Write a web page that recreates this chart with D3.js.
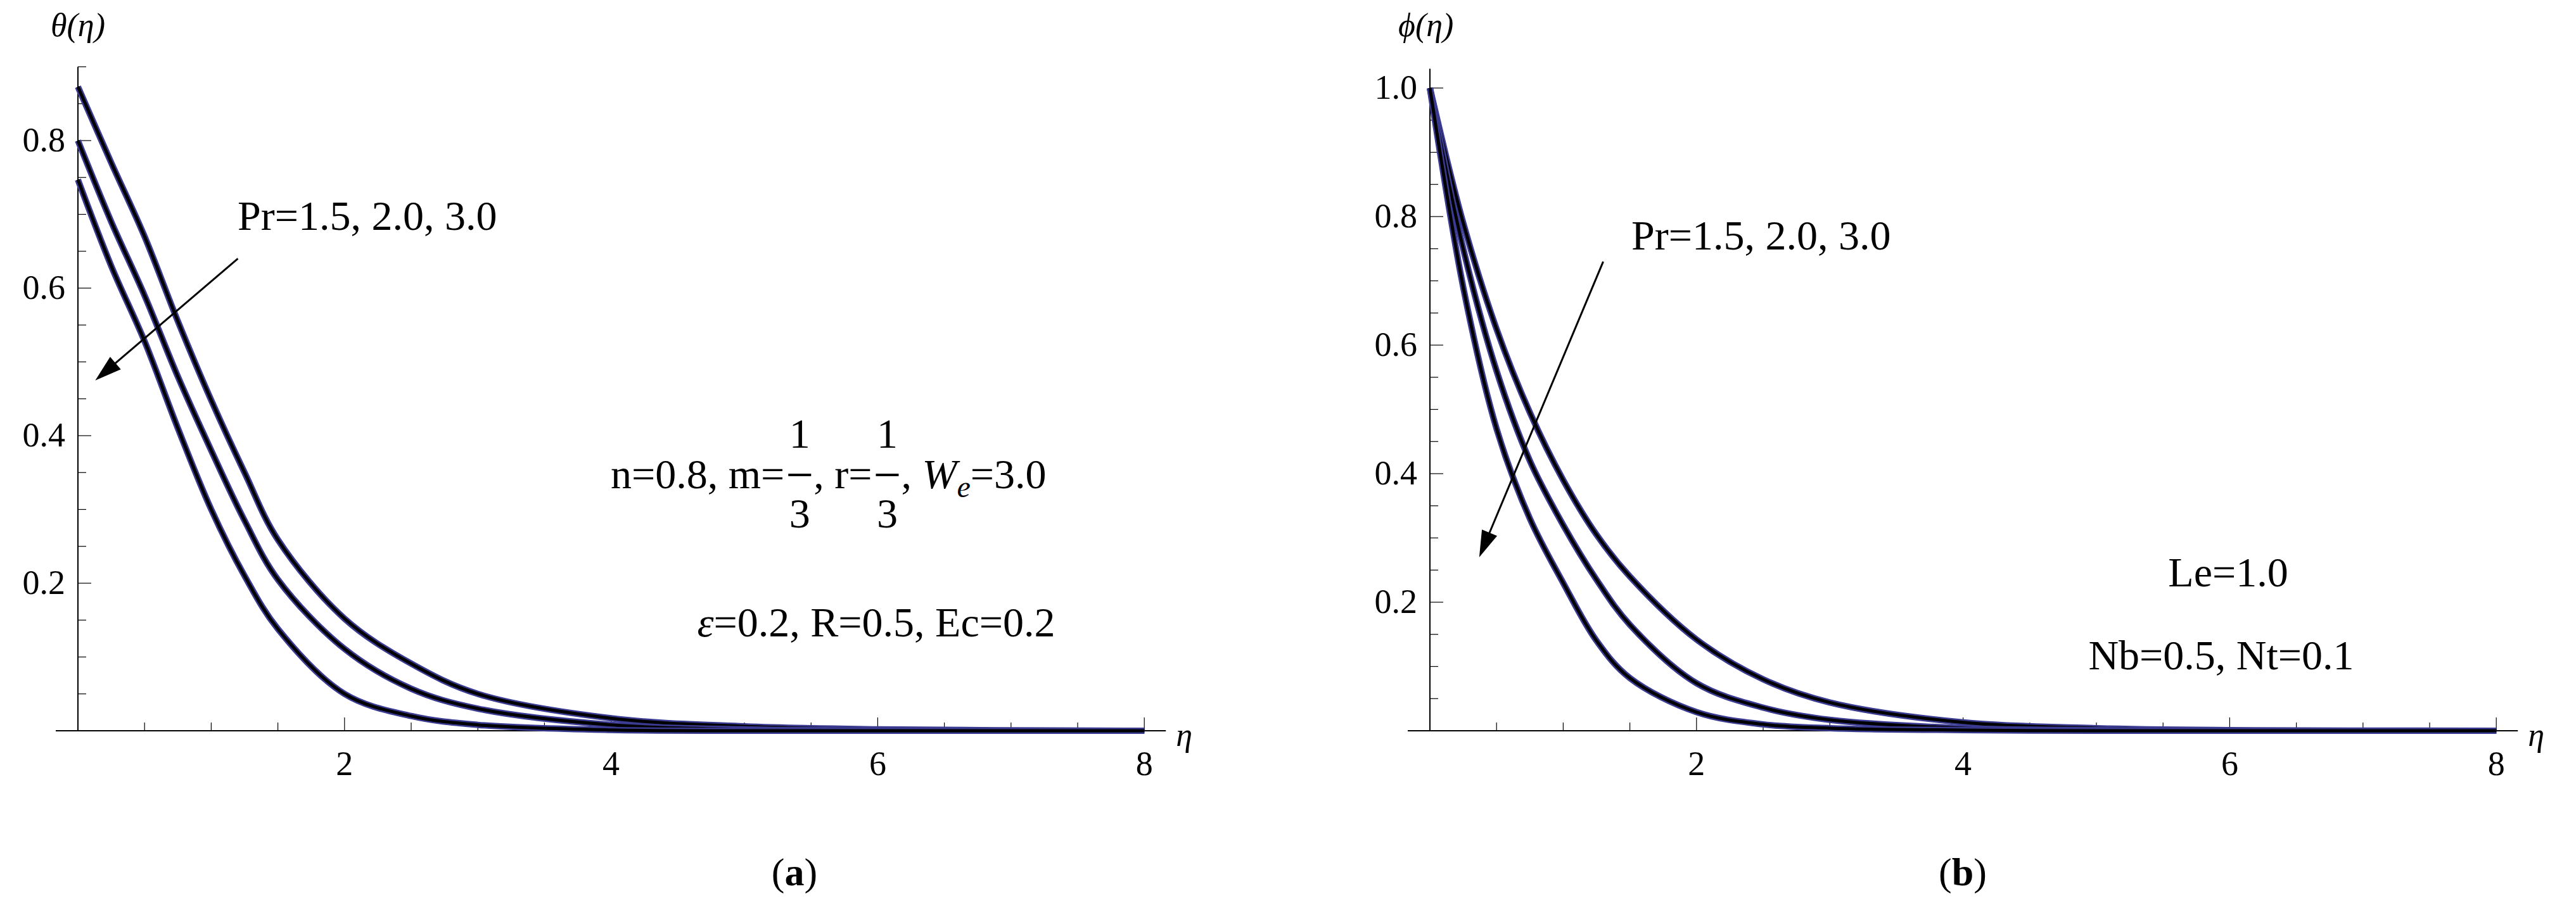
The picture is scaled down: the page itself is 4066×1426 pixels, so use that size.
<!DOCTYPE html>
<html><head><meta charset="utf-8">
<script src="https://cdn.jsdelivr.net/npm/d3@7"></script>
<style>body{margin:0;background:#fff}svg{display:block}text{font-family:"Liberation Serif","Times New Roman","DejaVu Serif",serif;fill:#000}</style>
</head><body>
<svg id="c" width="4066" height="1426" font-family="Liberation Serif, Times New Roman, DejaVu Serif, serif"></svg>
<script>
const eta = [0,0.25,0.5,0.75,1,1.25,1.5,2,2.5,3,4,5,6,8];
const thetaPr15 = [0.873,0.77,0.67,0.555,0.448,0.35,0.259,0.152,0.091,0.05,0.017,0.006,0.002,0];
const thetaPr20 = [0.80,0.69,0.59,0.48,0.38,0.285,0.205,0.111,0.057,0.03,0.008,0.002,0.0005,0];
const thetaPr30 = [0.747,0.63,0.528,0.41,0.30,0.21,0.138,0.05,0.02,0.008,0.001,0,0,0];
const phiPr15 = [1.0,0.79,0.625,0.495,0.39,0.305,0.24,0.142,0.08,0.044,0.013,0.004,0.001,0];
const phiPr20 = [1.0,0.75,0.56,0.42,0.32,0.235,0.165,0.074,0.036,0.017,0.004,0.001,0,0];
const phiPr30 = [1.0,0.69,0.47,0.33,0.23,0.14,0.082,0.029,0.01,0.004,0.001,0,0,0];
const xTicks = [2,4,6,8];
const yTicksLeft = [0.2,0.4,0.6,0.8];
const yTicksRight = [0.2,0.4,0.6,0.8,1.0];

const svg = d3.select("#c");

function panel(o){
  const g = svg.append("g");
  const x = d3.scaleLinear().domain([0,8]).range([o.x0, o.x0+8*210.4]);
  const y = d3.scaleLinear().domain([0,0.2]).range([1154, 1154-o.py]);
  g.append("line").attr("x1",o.x0-35).attr("x2",x(8)+34).attr("y1",y(0)).attr("y2",y(0)).attr("stroke","#000").attr("stroke-width",2);
  g.append("line").attr("x1",o.x0).attr("x2",o.x0).attr("y1",y(0)).attr("y2",y(o.ymax)).attr("stroke","#000").attr("stroke-width",2);
  const xMinor = d3.range(0.5,8.01,0.5).filter(v=>!xTicks.includes(v));
  xMinor.forEach(v=>g.append("line").attr("x1",x(v)).attr("x2",x(v)).attr("y1",y(0)).attr("y2",y(0)-13).attr("stroke","#000").attr("stroke-width",1.2));
  xTicks.forEach(v=>{
    g.append("line").attr("x1",x(v)).attr("x2",x(v)).attr("y1",y(0)).attr("y2",y(0)-21).attr("stroke","#000").attr("stroke-width",1.2);
    g.append("text").attr("x",x(v)).attr("y",1224).attr("text-anchor","middle").attr("font-size",54).text(v);
  });
  const yt = o.yTicks;
  const yMinor = d3.range(0.05,o.ymax+0.001,0.05).filter(v=>!yt.some(t=>Math.abs(t-v)<1e-6));
  yMinor.forEach(v=>g.append("line").attr("x1",o.x0).attr("x2",o.x0+13).attr("y1",y(v)).attr("y2",y(v)).attr("stroke","#000").attr("stroke-width",1.2));
  yt.forEach(v=>{
    g.append("line").attr("x1",o.x0).attr("x2",o.x0+21).attr("y1",y(v)).attr("y2",y(v)).attr("stroke","#000").attr("stroke-width",1.2);
    g.append("text").attr("x",o.x0-20).attr("y",y(v)+17).attr("text-anchor","end").attr("font-size",54).text(v.toFixed(1));
  });
  const line = d3.line().x((d,i)=>x(eta[i])).y(d=>y(d)).curve(d3.curveCatmullRom.alpha(0.5));
  o.series.forEach(s=>{
    g.append("path").attr("d",line(s)).attr("fill","none").attr("stroke","#3b3b92").attr("stroke-width",10);
    g.append("path").attr("d",line(s)).attr("fill","none").attr("stroke","#000").attr("stroke-width",5);
  });
  const [a1,a2] = o.arrow;
  const X1=x(a1[0]),Y1=y(a1[1]),X2=x(a2[0]),Y2=y(a2[1]);
  const ang=Math.atan2(Y2-Y1,X2-X1), L=42, W=13;
  g.append("line").attr("x1",X1).attr("y1",Y1).attr("x2",X2-Math.cos(ang)*L*0.8).attr("y2",Y2-Math.sin(ang)*L*0.8).attr("stroke","#000").attr("stroke-width",3);
  const bx=X2-Math.cos(ang)*L, by=Y2-Math.sin(ang)*L;
  g.append("path").attr("d",`M${X2},${Y2}L${bx-Math.sin(ang)*W},${by+Math.cos(ang)*W}L${bx+Math.sin(ang)*W},${by-Math.cos(ang)*W}Z`).attr("fill","#000");
  g.append("text").attr("x",o.lx).attr("y",57).attr("font-size",52).attr("font-style","italic").text(o.ylabel);
  g.append("text").attr("x",x(8)+50).attr("y",1178).attr("font-size",52).attr("font-style","italic").text("η");
  g.append("text").attr("x",o.prx).attr("y",o.pry).attr("font-size",66).text("Pr=1.5, 2.0, 3.0");
  const cap = g.append("text").attr("x",o.capx).attr("y",1398).attr("text-anchor","middle").attr("font-size",62);
  cap.append("tspan").text("(");
  cap.append("tspan").attr("font-weight","bold").text(o.cap);
  cap.append("tspan").text(")");
  return {g,x,y};
}

const L = panel({x0:123, py:233, ymax:0.9, yTicks:yTicksLeft, series:[thetaPr15,thetaPr20,thetaPr30],
  arrow:[[1.2,0.64],[0.13,0.475]], ylabel:"θ(η)", lx:80, prx:375, pry:363, capx:1254, cap:"a"});
const R = panel({x0:2257, py:203, ymax:1.03, yTicks:yTicksRight, series:[phiPr15,phiPr20,phiPr30],
  arrow:[[1.3,0.73],[0.37,0.27]], ylabel:"ϕ(η)", lx:2207, prx:2575, pry:394, capx:3098, cap:"b"});

const fs=66;
const t1 = L.g.append("text").attr("x",964).attr("y",771).attr("font-size",fs);
t1.append("tspan").text("n=0.8, m=");
function frac(xc){
  L.g.append("text").attr("x",xc).attr("y",707).attr("text-anchor","middle").attr("font-size",fs).text("1");
  L.g.append("line").attr("x1",xc-18).attr("x2",xc+18).attr("y1",750).attr("y2",750).attr("stroke","#000").attr("stroke-width",4);
  L.g.append("text").attr("x",xc).attr("y",833).attr("text-anchor","middle").attr("font-size",fs).text("3");
}
const w1 = t1.node().getComputedTextLength();
const f1x = 964 + w1 + 24;
frac(f1x);
const t2 = L.g.append("text").attr("x",f1x+22).attr("y",771).attr("font-size",fs).text(", r=");
const f2x = f1x+22+t2.node().getComputedTextLength()+24;
frac(f2x);
const t3 = L.g.append("text").attr("x",f2x+22).attr("y",771).attr("font-size",fs);
t3.append("tspan").text(", ");
t3.append("tspan").attr("font-style","italic").text("W");
t3.append("tspan").attr("font-style","italic").attr("font-size",48).attr("dy",14).text("e");
t3.append("tspan").attr("dy",-14).text("=3.0");
const t4 = L.g.append("text").attr("x",1383).attr("y",1005).attr("text-anchor","middle").attr("font-size",fs);
t4.append("tspan").attr("font-style","italic").text("ε");
t4.append("tspan").text("=0.2, R=0.5, Ec=0.2");
R.g.append("text").attr("x",3517).attr("y",926).attr("text-anchor","middle").attr("font-size",fs).text("Le=1.0");
R.g.append("text").attr("x",3506).attr("y",1057).attr("text-anchor","middle").attr("font-size",fs).text("Nb=0.5, Nt=0.1");
</script>
</body></html>
